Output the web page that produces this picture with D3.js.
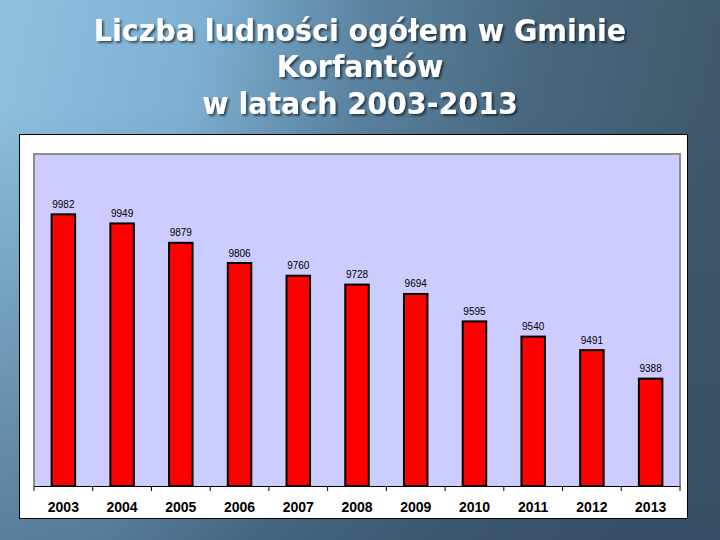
<!DOCTYPE html>
<html><head><meta charset="utf-8">
<script src="https://cdn.jsdelivr.net/npm/d3@7"></script>
<style>html,body{margin:0;padding:0;overflow:hidden;background:#fff}</style>
</head><body>
<script>
const titleLines = ["Liczba ludności ogółem w Gminie", "Korfantów", "w latach 2003-2013"];
const years = ["2003","2004","2005","2006","2007","2008","2009","2010","2011","2012","2013"];
const population = [9982, 9949, 9879, 9806, 9760, 9728, 9694, 9595, 9540, 9491, 9388];
const yDomain = [9000, 10200];

const W = 720, H = 540;
const svg = d3.select("body").append("svg").attr("width", W).attr("height", H);
const defs = svg.append("defs");

const g1 = defs.append("linearGradient").attr("id","bg").attr("x1",0).attr("y1",0).attr("x2",1).attr("y2",0.15);
[[0,"#8ec0e0"],[0.28,"#7eb0d2"],[0.5,"#5b84a2"],[0.75,"#48677e"],[1,"#3e596d"]].forEach(s=>g1.append("stop").attr("offset",s[0]).attr("stop-color",s[1]));
const g2 = defs.append("linearGradient").attr("id","ov").attr("x1",0).attr("y1",0).attr("x2",0).attr("y2",1);
g2.append("stop").attr("offset",0.2).attr("stop-color","#2d465f").attr("stop-opacity",0);
g2.append("stop").attr("offset",1).attr("stop-color","#2d465f").attr("stop-opacity",0.5);
const f = defs.append("filter").attr("id","sh").attr("x","-10%").attr("y","-30%").attr("width","120%").attr("height","160%");
f.append("feDropShadow").attr("dx",2).attr("dy",2).attr("stdDeviation",1).attr("flood-color","#000").attr("flood-opacity",0.55);

svg.append("rect").attr("width",W).attr("height",H).attr("fill","url(#bg)");
svg.append("rect").attr("width",W).attr("height",H).attr("fill","url(#ov)");

svg.append("g").attr("filter","url(#sh)")
  .append("g").attr("transform","translate(360,0) scale(0.95,1) translate(-360,0)")
  .selectAll("text").data(titleLines).join("text")
  .attr("x",360).attr("y",(d,i)=>41+i*36.5).attr("text-anchor","middle")
  .attr("font-family","DejaVu Sans").attr("font-weight","bold").attr("font-size",30)
  .attr("fill","#fff").text(d=>d);

// white chart box
svg.append("rect").attr("x",19.5).attr("y",134.5).attr("width",668).attr("height",384)
  .attr("fill","#fff").attr("stroke","#000").attr("stroke-width",1);

const L = 34, R = 680, T = 154, B = 486;
const x = d3.scaleBand().domain(years).range([L,R]).paddingInner(0.6).paddingOuter(0.3);
const xb = d3.scaleBand().domain(years).range([L,R]).padding(0);
const y = d3.scaleLinear().domain(yDomain).range([B,T]);

svg.append("rect").attr("x",L).attr("y",T).attr("width",R-L).attr("height",B-T).attr("fill","#ccccff");
svg.append("path").attr("d",`M${L},${B}V${T}H${R}V${B}`).attr("fill","none").attr("stroke","#8c8c8c").attr("stroke-width",2);

svg.append("g").selectAll("rect").data(years).join("rect")
  .attr("x",d=>x(d)).attr("width",x.bandwidth())
  .attr("y",(d,i)=>y(population[i])).attr("height",(d,i)=>B-y(population[i]))
  .attr("fill","#ff0000").attr("stroke","#000").attr("stroke-width",2);

svg.append("g").selectAll("text").data(years).join("text")
  .attr("x",d=>x(d)+x.bandwidth()/2).attr("y",(d,i)=>y(population[i])-6.5)
  .attr("text-anchor","middle").attr("font-family","Liberation Sans, Arial").attr("font-size",10)
  .attr("fill","#000").text((d,i)=>population[i]);

const ax = svg.append("g").attr("transform",`translate(0,${B})`)
  .call(d3.axisBottom(xb).tickSize(0).tickPadding(16));
ax.select(".domain").attr("stroke","#000").attr("stroke-width",1);
ax.selectAll("text").attr("font-family","Liberation Sans, Arial").attr("font-weight","bold").attr("font-size",14).attr("fill","#000");
const tickPos = years.map(d=>xb(d)).concat([R]);
svg.append("g").selectAll("line").data(tickPos).join("line")
  .attr("x1",d=>d).attr("x2",d=>d).attr("y1",B).attr("y2",B+5).attr("stroke","#000");
</script>
</body></html>
